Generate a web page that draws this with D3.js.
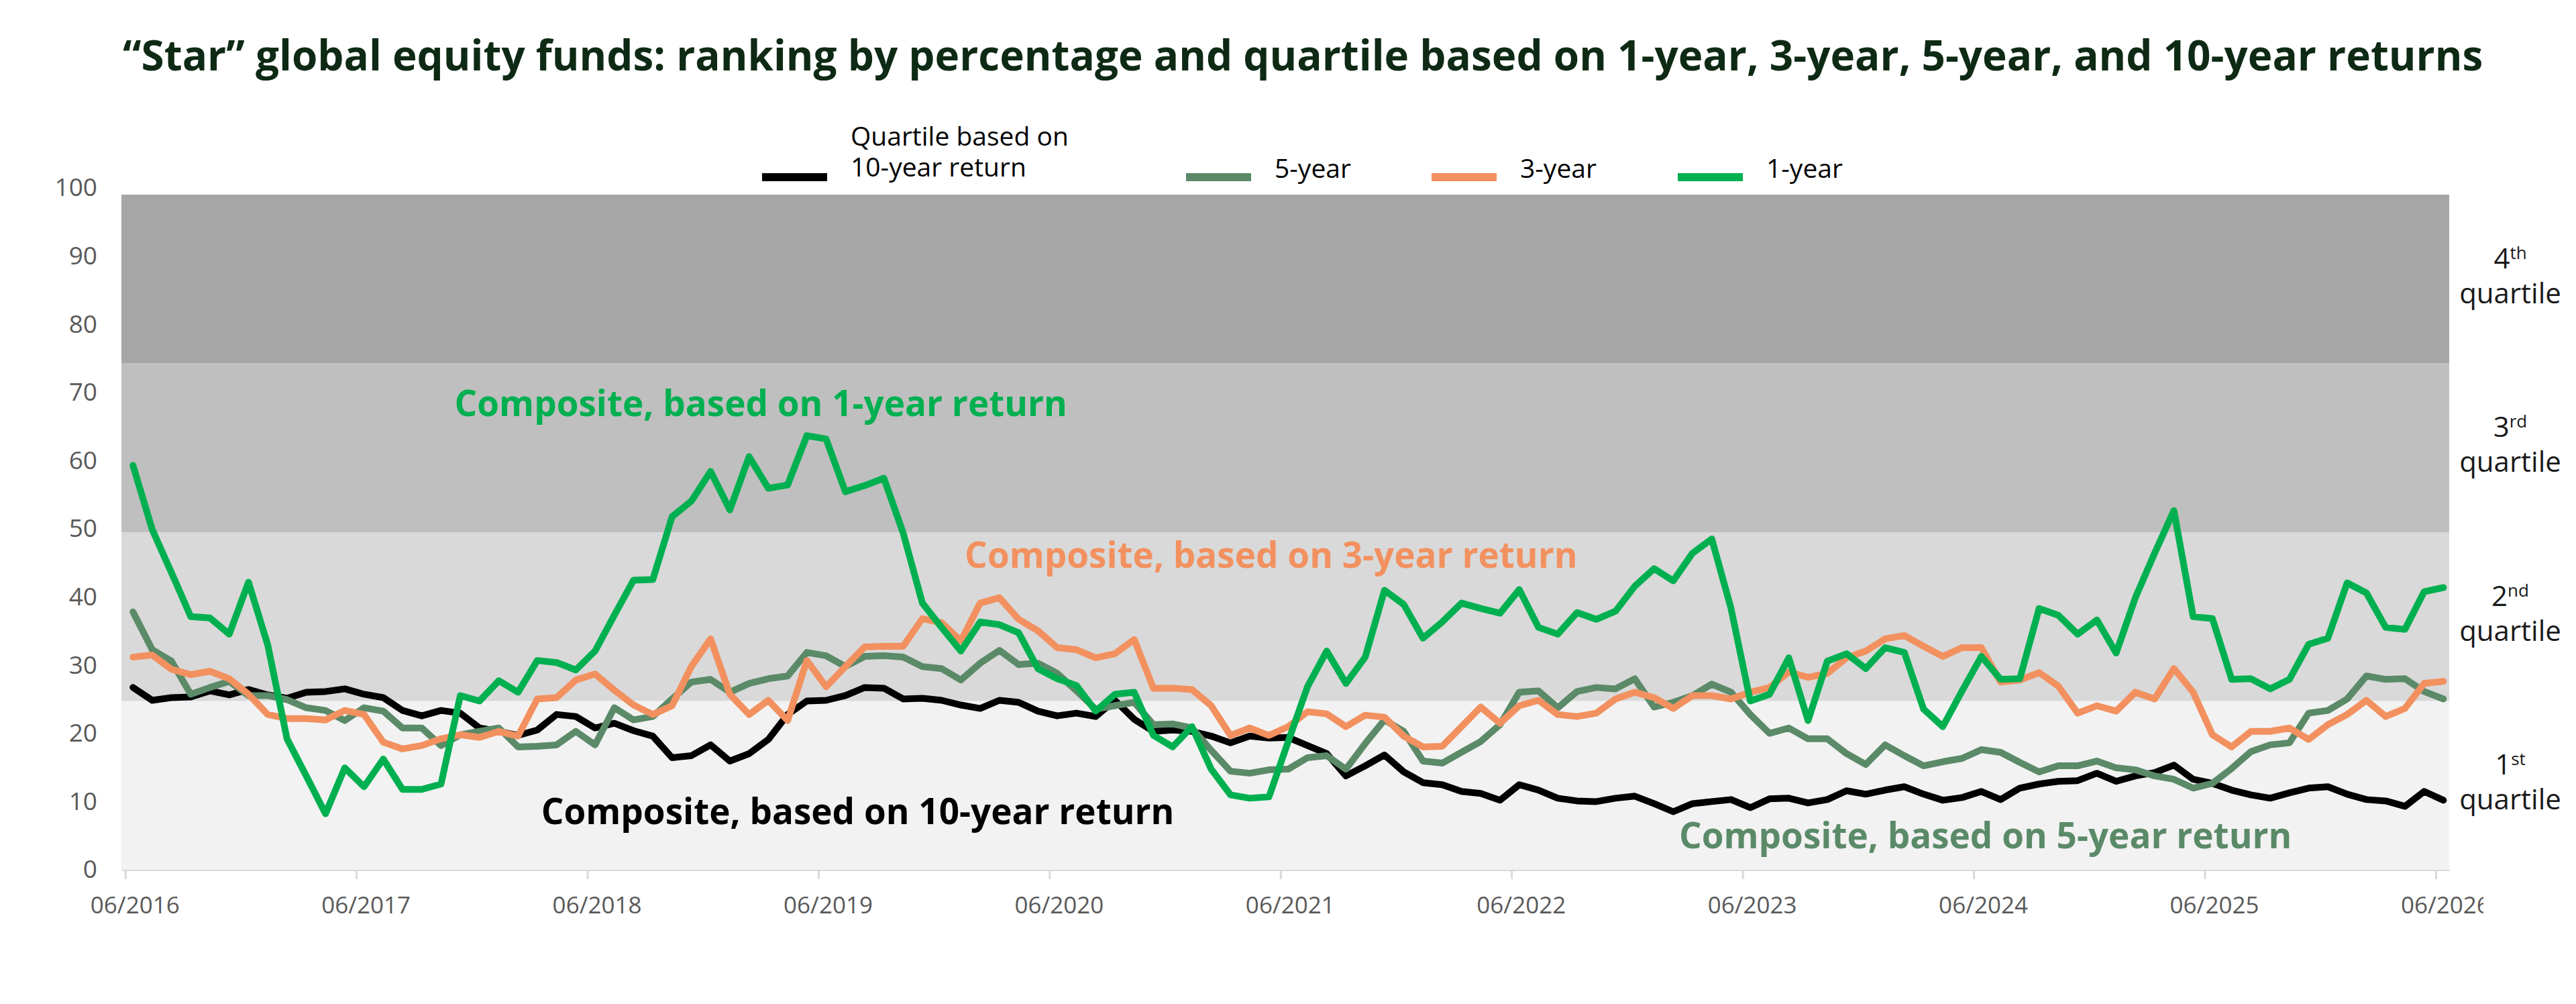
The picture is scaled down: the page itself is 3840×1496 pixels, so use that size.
<!DOCTYPE html>
<html>
<head>
<meta charset="utf-8">
<title>Star global equity funds</title>
<script src="https://d3js.org/d3.v7.min.js"></script>
<style>
  body { margin: 0; background: #fff; }
  text { font-family: "Open Sans", sans-serif; }
</style>
</head>
<body>
<div id="chart"></div>
<script>
// percentile rank of the composite, one value per month, 06/2016 .. 06/2026
const oneYear = [
  59.9, 50.4, 44.0, 37.5, 37.3, 34.9, 42.6, 33.3, 19.4, 13.9,
  8.3, 15.1, 12.3, 16.4, 11.9, 11.9, 12.7, 25.8, 25.0, 28.0,
  26.3, 31.0, 30.7, 29.6, 32.4, 37.7, 42.9, 43.0, 52.3, 54.6,
  59.0, 53.3, 61.2, 56.5, 57.0, 64.3, 63.8, 56.0, 56.9, 58.0,
  49.9, 39.5, 35.9, 32.4, 36.7, 36.3, 35.1, 29.8, 28.3, 27.3,
  23.5, 26.0, 26.3, 19.9, 18.2, 21.2, 14.9, 11.1, 10.6, 10.8,
  19.0, 27.1, 32.4, 27.6, 31.5, 41.4, 39.3, 34.3, 36.7, 39.5,
  38.7, 38.0, 41.5, 35.9, 34.9, 38.1, 37.1, 38.3, 42.0, 44.6,
  42.8, 46.9, 49.0, 38.7, 25.0, 26.0, 31.4, 22.1, 30.9, 32.0,
  29.8, 32.9, 32.2, 23.8, 21.2, 26.5, 31.6, 28.2, 28.3, 38.7,
  37.7, 34.9, 37.0, 32.1, 40.3, 46.9, 53.2, 37.5, 37.2, 28.2,
  28.3, 26.8, 28.2, 33.4, 34.3, 42.5, 41.0, 35.9, 35.6, 41.2, 41.8
];
const threeYear = [
  31.5, 31.8, 29.7, 28.9, 29.4, 28.3, 26.0, 23.0, 22.4, 22.4,
  22.2, 23.6, 23.0, 18.9, 17.9, 18.4, 19.4, 20.0, 19.6, 20.5,
  19.8, 25.3, 25.5, 28.1, 29.0, 26.6, 24.4, 23.0, 24.3, 30.1,
  34.2, 26.0, 23.0, 25.1, 22.1, 31.0, 27.1, 30.1, 33.0, 33.1,
  33.1, 37.2, 36.6, 33.9, 39.5, 40.3, 37.1, 35.4, 32.9, 32.6,
  31.4, 32.0, 34.1, 26.9, 26.9, 26.7, 24.3, 19.9, 21.0, 19.9,
  21.2, 23.4, 23.1, 21.2, 22.9, 22.6, 19.8, 18.2, 18.3, 21.2,
  24.1, 21.7, 24.3, 25.1, 23.0, 22.7, 23.2, 25.3, 26.3, 25.5,
  23.9, 25.8, 25.8, 25.3, 26.3, 27.0, 29.3, 28.5, 29.1, 31.4,
  32.4, 34.2, 34.7, 33.1, 31.6, 32.9, 32.9, 27.8, 28.1, 29.2,
  27.2, 23.2, 24.3, 23.5, 26.3, 25.3, 29.8, 26.3, 20.0, 18.2,
  20.5, 20.5, 21.0, 19.3, 21.5, 23.0, 25.1, 22.7, 23.9, 27.6, 27.9
];
const fiveYear = [
  38.2, 32.6, 30.9, 26.0, 27.0, 27.9, 25.8, 25.8, 25.2, 24.0,
  23.6, 22.1, 24.0, 23.5, 21.0, 21.0, 18.4, 20.0, 20.5, 21.0,
  18.2, 18.3, 18.5, 20.5, 18.5, 24.0, 22.2, 22.7, 25.3, 27.8,
  28.2, 26.3, 27.6, 28.3, 28.7, 32.2, 31.7, 30.1, 31.6, 31.7,
  31.5, 30.1, 29.8, 28.1, 30.6, 32.5, 30.4, 30.6, 29.1, 26.5,
  23.8, 24.3, 24.8, 21.5, 21.6, 21.0, 17.7, 14.6, 14.3, 14.8,
  14.9, 16.6, 16.9, 14.9, 18.7, 22.2, 20.5, 16.1, 15.8, 17.4,
  19.0, 21.5, 26.3, 26.5, 24.0, 26.4, 27.0, 26.8, 28.3, 24.1,
  24.8, 25.8, 27.5, 26.3, 23.0, 20.2, 21.0, 19.4, 19.4, 17.2,
  15.6, 18.5, 16.9, 15.4, 16.0, 16.5, 17.8, 17.4, 15.9, 14.5,
  15.4, 15.4, 16.1, 15.1, 14.8, 13.9, 13.4, 12.1, 12.8, 15.0,
  17.5, 18.5, 18.8, 23.2, 23.6, 25.3, 28.7, 28.2, 28.3, 26.4, 25.3
];
const tenYear = [
  27.0, 25.1, 25.5, 25.6, 26.5, 25.9, 26.7, 25.9, 25.4, 26.3,
  26.4, 26.8, 26.0, 25.5, 23.6, 22.8, 23.6, 23.2, 21.0, 20.5,
  19.9, 20.7, 23.0, 22.7, 21.0, 21.7, 20.6, 19.8, 16.6, 16.9,
  18.5, 16.1, 17.2, 19.3, 23.0, 25.0, 25.1, 25.8, 27.0, 26.9,
  25.3, 25.4, 25.1, 24.4, 23.9, 25.1, 24.8, 23.5, 22.8, 23.2,
  22.7, 25.1, 22.3, 20.5, 20.7, 20.5, 19.8, 18.8, 19.8, 19.5,
  19.6, 18.4, 17.2, 13.9, 15.4, 17.0, 14.5, 12.9, 12.6, 11.6,
  11.3, 10.3, 12.6, 11.8, 10.6, 10.2, 10.1, 10.6, 10.9, 9.8,
  8.6, 9.8, 10.1, 10.4, 9.2, 10.5, 10.6, 9.9, 10.4, 11.7,
  11.2, 11.8, 12.3, 11.2, 10.3, 10.7, 11.6, 10.4, 12.1, 12.7,
  13.1, 13.2, 14.3, 13.1, 13.9, 14.4, 15.5, 13.4, 12.8, 11.8,
  11.1, 10.6, 11.4, 12.1, 12.3, 11.2, 10.4, 10.2, 9.4, 11.6, 10.3
];

const yearLabels = ["06/2016", "06/2017", "06/2018", "06/2019", "06/2020", "06/2021",
                    "06/2022", "06/2023", "06/2024", "06/2025", "06/2026"];
const yTicks = [0, 10, 20, 30, 40, 50, 60, 70, 80, 90, 100];
const quartileBreaks = [0, 25, 50, 75, 100];
const quartileNames = [["1", "st"], ["2", "nd"], ["3", "rd"], ["4", "th"]];

const legendNames = [["Quartile based on", "10-year return"], ["5-year"], ["3-year"], ["1-year"]];
const compositeLabels = [
  "Composite, based on 10-year return",
  "Composite, based on 5-year return",
  "Composite, based on 3-year return",
  "Composite, based on 1-year return"
];

const title = "\u201cStar\u201d global equity funds: ranking by percentage and quartile based on 1-year, 3-year, 5-year, and 10-year returns";

// ---- drawing ----
const W = 3840, H = 1496;
const plot = {left: 181, right: 3651, top: 290, bottom: 1296};

const bandColors = ["#f2f2f2", "#d9d9d9", "#bfbfbf", "#a6a6a6"];
const seriesColors = ["#000000", "#5b8a68", "#f2915f", "#00b050"];
const series = [tenYear, fiveYear, threeYear, oneYear];

const svg = d3.select("#chart").append("svg")
    .attr("width", W)
    .attr("height", H);

// month index on x; ticks sit a little before the June point
const x = d3.scaleLinear().domain([-0.6, 120.3]).range([plot.left, plot.right]);
const y = d3.scaleLinear().domain([0, 100]).range([plot.bottom, plot.top]);

svg.append("text")
    .attr("x", 183)
    .attr("y", 105)
    .attr("font-size", 62)
    .attr("font-weight", "bold")
    .attr("fill", "#0e2a14")
    .text(title);

// quartile bands
svg.append("g").selectAll("rect")
    .data(d3.range(4))
    .join("rect")
    .attr("x", plot.left)
    .attr("width", plot.right - plot.left)
    .attr("y", i => y(quartileBreaks[i + 1]))
    .attr("height", i => y(quartileBreaks[i]) - y(quartileBreaks[i + 1]))
    .attr("fill", i => bandColors[i]);

// x axis (last label is cut off in the original)
svg.append("clipPath").attr("id", "xclip")
  .append("rect").attr("x", 0).attr("y", 0).attr("width", 3702).attr("height", H);

const xAxis = d3.axisBottom(x)
    .tickValues(yearLabels.map((d, j) => 12 * j - 0.4))
    .tickFormat((d, j) => yearLabels[j])
    .tickSize(14)
    .tickSizeOuter(0)
    .tickPadding(26);

const gx = svg.append("g")
    .attr("transform", "translate(0," + plot.bottom + ")")
    .attr("clip-path", "url(#xclip)")
    .call(xAxis);
gx.select(".domain").attr("stroke", "#d9d9d9").attr("stroke-width", 3);
gx.selectAll(".tick line").attr("stroke", "#d9d9d9").attr("stroke-width", 3);
gx.selectAll(".tick text")
    .attr("x", 14)
    .attr("font-size", 35)
    .attr("font-family", "Open Sans")
    .attr("fill", "#595959");

// y axis
const gy = svg.append("g")
    .attr("transform", "translate(" + plot.left + ",0)")
    .call(d3.axisLeft(y).tickValues(yTicks).tickSize(0).tickPadding(36));
gy.select(".domain").remove();
gy.selectAll(".tick text")
    .attr("y", d => -d * 0.1)
    .attr("font-size", 37)
    .attr("font-family", "Open Sans")
    .attr("fill", "#595959");

// lines
const line = d3.line()
    .x((d, i) => x(i))
    .y(d => y(d));

svg.append("g").selectAll("path")
    .data(series)
    .join("path")
    .attr("d", line)
    .attr("fill", "none")
    .attr("stroke", (d, i) => seriesColors[i])
    .attr("stroke-width", 10)
    .attr("stroke-linejoin", "round")
    .attr("stroke-linecap", "round");

// composite labels, placed at (month index, rank)
const labelSpots = [[21.2, 6.8], [80.3, 3.2], [43.2, 44.7], [16.7, 67.2]];
svg.append("g").selectAll("text")
    .data(compositeLabels)
    .join("text")
    .attr("x", (d, i) => x(labelSpots[i][0]))
    .attr("y", (d, i) => y(labelSpots[i][1]))
    .attr("font-size", 53)
    .attr("font-weight", "bold")
    .attr("fill", (d, i) => seriesColors[i])
    .text(d => d);

// legend
const legendX = [1136, 1768, 2134, 2501];
const legend = svg.append("g").selectAll("g")
    .data(legendNames)
    .join("g")
    .attr("transform", (d, i) => "translate(" + legendX[i] + ",264)");
legend.append("line")
    .attr("x1", 0).attr("x2", 97)
    .attr("stroke", (d, i) => seriesColors[i])
    .attr("stroke-width", 12);
legend.append("text")
    .attr("font-size", 39)
    .attr("fill", "#000")
    .selectAll("tspan")
    .data(d => d)
    .join("tspan")
    .attr("x", 132)
    .attr("y", (t, k, nodes) => nodes.length === 1 ? 1 : (k - 1) * 46 - 1)
    .text(t => t);

// quartile names on the right
const ql = svg.append("g").selectAll("text")
    .data(quartileNames)
    .join("text")
    .attr("x", 3742)
    .attr("y", (d, i) => y((quartileBreaks[i] + quartileBreaks[i + 1]) / 2))
    .attr("text-anchor", "middle")
    .attr("font-size", 42)
    .attr("fill", "#1a1a1a");
ql.append("tspan").attr("dy", -16).text(d => d[0]);
ql.append("tspan").attr("font-size", 26).attr("dy", -14).text(d => d[1]);
ql.append("tspan").attr("x", 3742).attr("dy", 66).text("quartile");
</script>
</body>
</html>
